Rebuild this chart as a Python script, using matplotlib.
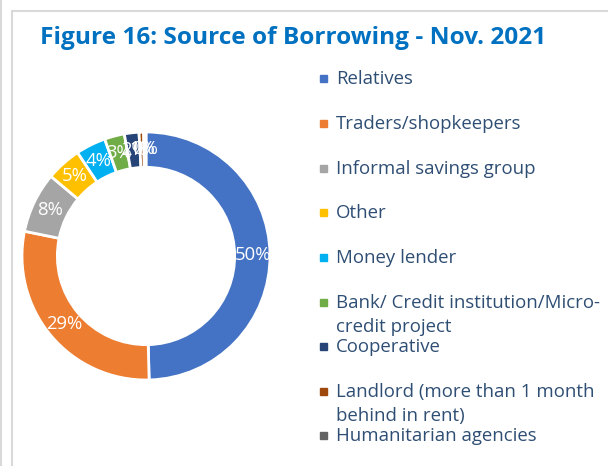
import matplotlib.pyplot as plt
from matplotlib.patches import Rectangle

# Source of borrowing, share of households (%)
sources = ["Relatives", "Traders/shopkeepers", "Informal savings group", "Other",
           "Money lender", "Bank/ Credit institution/Micro-\ncredit project",
           "Cooperative", "Landlord (more than 1 month\nbehind in rent)",
           "Humanitarian agencies"]
shares = [49.6, 28.6, 7.9, 4.6, 3.9, 2.6, 1.9, 0.6, 0.3]
colors = ["#4472C4", "#ED7D31", "#A5A5A5", "#FFC000", "#00B0F0",
          "#70AD47", "#264478", "#9E480E", "#636363"]

W, H = 608, 466
fig = plt.figure(figsize=(W / 100, H / 100), dpi=100)
fig.patch.set_facecolor("white")

# light frame around the figure box
fig.patches.append(Rectangle((12 / W, -0.1), 1.2, (H - 11) / H + 0.1,
                             transform=fig.transFigure, fill=False,
                             edgecolor="#d9d9d9", linewidth=1.5))
fig.add_artist(plt.Line2D([1 / W, 1 / W], [0, 1], transform=fig.transFigure,
                          color="#d9d9d9", linewidth=1.5))

fig.text(40 / W, 1 - 38 / H, "Figure 16: Source of Borrowing - Nov. 2021",
         fontsize=17.6, fontweight="bold", color="#0070C0",
         family="Open Sans", va="center", ha="left")

# donut
cx, cy, r = 146, 256, 124
ax = fig.add_axes([(cx - r) / W, (H - cy - r) / H, 2 * r / W, 2 * r / H])
wedges, texts, autotexts = ax.pie(
    shares, colors=colors, startangle=90, counterclock=False,
    autopct=lambda p: f"{p:.0f}%", pctdistance=0.86,
    wedgeprops=dict(width=0.285, edgecolor="white", linewidth=2),
    textprops=dict(color="white", fontsize=13.3, family="Open Sans"))
ax.set_xlim(-1, 1)
ax.set_ylim(-1, 1)
ax.axis("off")

# legend, one square marker per source
legend_y = [79, 124, 169, 213, 258, 303, 347, 392, 436]
for name, col, y in zip(sources, colors, legend_y):
    fig.patches.append(Rectangle((320 / W, 1 - (y + 3) / H), 7 / W, 7 / H,
                                 transform=fig.transFigure, color=col))
    for i, line in enumerate(name.split("\n")):
        fig.text(336 / W, 1 - (y + i * 24) / H, line, fontsize=13.4,
                 color="#2F4E74", family="Open Sans", va="center", ha="left")

fig.savefig("out.png", dpi=100, facecolor="white")
